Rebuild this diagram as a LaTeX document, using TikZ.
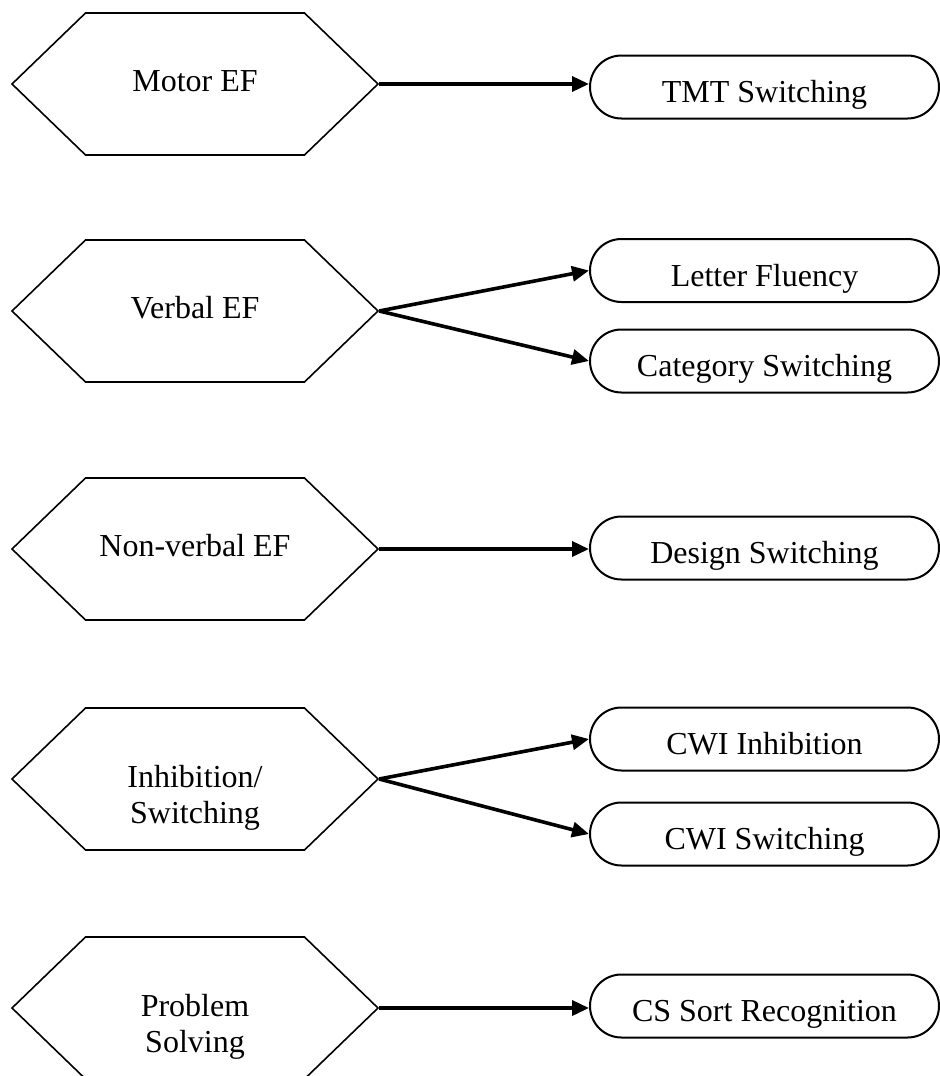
\documentclass[tikz,border=0pt]{standalone}
\usepackage{fontspec}
\setmainfont{Liberation Serif}
\usepackage{tikz}
\usetikzlibrary{shapes.symbols}
\usetikzlibrary{shapes.misc}
\usetikzlibrary{arrows.meta}

\tikzset{
  factor/.style={draw, line width=.8pt, signal, signal to=east and west,
    signal pointer angle=88, minimum width=183pt, minimum height=71pt,
    inner sep=0pt, align=center, text height=11pt, text depth=3.5pt},
  twolines/.style={text height=44pt, text depth=0pt},
  task/.style={draw, line width=1pt, rounded rectangle,
    minimum width=174.5pt, minimum height=31.5pt, inner sep=0pt,
    text height=15.6pt, text depth=0pt},
  link/.style={line width=1.8pt, -{Triangle[length=8.5pt,width=7.5pt]}}
}

\begin{document}
\begin{tikzpicture}[x=.5pt, y=-.5pt, font=\fontsize{16pt}{18pt}\selectfont]
  \useasboundingbox (0,0) rectangle (940,1076);
  \node (mef) [factor] at (195,84) {Motor EF};
  \node (vef) [factor] at (195,311) {Verbal EF};
  \node (nef) [factor] at (195,549) {Non-verbal EF};
  \node (isw) [factor, twolines] at (195,779) {Inhibition/\\Switching};
  \node (ps) [factor, twolines] at (195,1008) {Problem\\Solving};
  \node (tmt) [task] at (764.5,87) {TMT Switching};
  \node (lf) [task] at (764.5,270.5) {Letter Fluency};
  \node (cat) [task] at (764.5,361) {Category Switching};
  \node (des) [task] at (764.5,548) {Design Switching};
  \node (cwii) [task] at (764.5,739) {CWI Inhibition};
  \node (cwis) [task] at (764.5,834) {CWI Switching};
  \node (css) [task] at (764.5,1006) {CS Sort Recognition};
  \draw[link] (mef.east) -- (mef.east -| tmt.west);
  \draw[link] (vef.east) -- (lf.west);
  \draw[link] (vef.east) -- (cat.west);
  \draw[link] (nef.east) -- (nef.east -| des.west);
  \draw[link] (isw.east) -- (cwii.west);
  \draw[link] (isw.east) -- (cwis.west);
  \draw[link] (ps.east) -- (ps.east -| css.west);
\end{tikzpicture}
\end{document}
